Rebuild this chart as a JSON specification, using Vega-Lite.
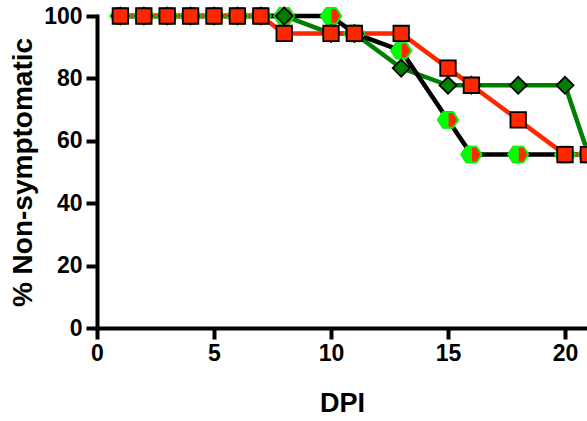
{
  "$schema": "https://vega.github.io/schema/vega-lite/v6.json",
  "width": 490,
  "height": 312,
  "autosize": {"type": "none"},
  "padding": {"left": 97, "top": 16, "right": 0, "bottom": 93},
  "background": "white",
  "config": {"view": {"stroke": null}, "font": "Liberation Sans"},
  "data": {
    "values": [
      {"series": "Black", "dpi": 1, "pct": 100},
      {"series": "Black", "dpi": 2, "pct": 100},
      {"series": "Black", "dpi": 3, "pct": 100},
      {"series": "Black", "dpi": 4, "pct": 100},
      {"series": "Black", "dpi": 5, "pct": 100},
      {"series": "Black", "dpi": 6, "pct": 100},
      {"series": "Black", "dpi": 7, "pct": 100},
      {"series": "Black", "dpi": 8, "pct": 100},
      {"series": "Black", "dpi": 10, "pct": 100},
      {"series": "Black", "dpi": 11, "pct": 94.4},
      {"series": "Black", "dpi": 13, "pct": 88.9},
      {"series": "Black", "dpi": 15, "pct": 66.7},
      {"series": "Black", "dpi": 16, "pct": 55.6},
      {"series": "Black", "dpi": 18, "pct": 55.6},
      {"series": "Black", "dpi": 20, "pct": 55.6},
      {"series": "Black", "dpi": 21, "pct": 55.6},
      {"series": "Green", "dpi": 1, "pct": 100},
      {"series": "Green", "dpi": 2, "pct": 100},
      {"series": "Green", "dpi": 3, "pct": 100},
      {"series": "Green", "dpi": 4, "pct": 100},
      {"series": "Green", "dpi": 5, "pct": 100},
      {"series": "Green", "dpi": 6, "pct": 100},
      {"series": "Green", "dpi": 7, "pct": 100},
      {"series": "Green", "dpi": 8, "pct": 100},
      {"series": "Green", "dpi": 10, "pct": 94.4},
      {"series": "Green", "dpi": 11, "pct": 94.4},
      {"series": "Green", "dpi": 13, "pct": 83.3},
      {"series": "Green", "dpi": 15, "pct": 77.8},
      {"series": "Green", "dpi": 16, "pct": 77.8},
      {"series": "Green", "dpi": 18, "pct": 77.8},
      {"series": "Green", "dpi": 20, "pct": 77.8},
      {"series": "Green", "dpi": 21, "pct": 55.6},
      {"series": "Red", "dpi": 1, "pct": 100},
      {"series": "Red", "dpi": 2, "pct": 100},
      {"series": "Red", "dpi": 3, "pct": 100},
      {"series": "Red", "dpi": 4, "pct": 100},
      {"series": "Red", "dpi": 5, "pct": 100},
      {"series": "Red", "dpi": 6, "pct": 100},
      {"series": "Red", "dpi": 7, "pct": 100},
      {"series": "Red", "dpi": 8, "pct": 94.4},
      {"series": "Red", "dpi": 10, "pct": 94.4},
      {"series": "Red", "dpi": 11, "pct": 94.4},
      {"series": "Red", "dpi": 13, "pct": 94.4},
      {"series": "Red", "dpi": 15, "pct": 83.3},
      {"series": "Red", "dpi": 16, "pct": 77.8},
      {"series": "Red", "dpi": 18, "pct": 66.7},
      {"series": "Red", "dpi": 20, "pct": 55.6},
      {"series": "Red", "dpi": 21, "pct": 55.6}
    ]
  },
  "encoding": {
    "x": {
      "field": "dpi",
      "type": "quantitative",
      "scale": {"domain": [0, 20.94], "nice": false, "zero": true},
      "axis": {
        "title": "DPI",
        "values": [0, 5, 10, 15, 20],
        "grid": false,
        "domainColor": "black",
        "domainWidth": 4,
        "domainCap": "square",
        "tickColor": "black",
        "tickWidth": 4,
        "tickSize": 11,
        "labelFontSize": 23,
        "labelFontWeight": "bold",
        "labelColor": "black",
        "labelPadding": 3,
        "labelFlush": false,
        "titleFontSize": 27,
        "titleFontWeight": "bold",
        "titleColor": "black",
        "titlePadding": 25
      }
    },
    "y": {
      "field": "pct",
      "type": "quantitative",
      "scale": {"domain": [0, 100], "nice": false},
      "axis": {
        "title": "% Non-symptomatic",
        "values": [0, 20, 40, 60, 80, 100],
        "grid": false,
        "domainColor": "black",
        "domainWidth": 4,
        "domainCap": "square",
        "tickColor": "black",
        "tickWidth": 4,
        "tickSize": 11,
        "labelFontSize": 23,
        "labelFontWeight": "bold",
        "labelColor": "black",
        "labelPadding": 4,
        "labelFlush": false,
        "titleFontSize": 28,
        "titleFontWeight": "bold",
        "titleColor": "black",
        "titlePadding": 6
      }
    }
  },
  "layer": [
    {
      "transform": [{"filter": "datum.series == 'Green'"}],
      "mark": {"type": "line", "color": "#008000", "strokeWidth": 4.5}
    },
    {
      "transform": [{"filter": "datum.series == 'Black'"}],
      "mark": {"type": "line", "color": "black", "strokeWidth": 4.5}
    },
    {
      "transform": [{"filter": "datum.series == 'Red'"}],
      "mark": {"type": "line", "color": "#ff2600", "strokeWidth": 4.5}
    },
    {
      "transform": [{"filter": "datum.series == 'Black'"}],
      "mark": {
        "type": "point",
        "filled": true,
        "shape": "M-1,0L-0.5,-0.78L0.5,-0.78L1,0L0.5,0.78L-0.5,0.78Z",
        "size": 460,
        "fill": "#00ff00",
        "stroke": "#00e600",
        "strokeWidth": 1,
        "opacity": 1
      }
    },
    {
      "transform": [{"filter": "datum.series == 'Black'"}],
      "mark": {
        "type": "point",
        "filled": true,
        "shape": "M0.05,-0.64L0.45,-0.64L0.84,0L0.45,0.64L0.05,0.64Z",
        "size": 460,
        "fill": "#ff2600",
        "strokeWidth": 0,
        "opacity": 1
      }
    },
    {
      "transform": [{"filter": "datum.series == 'Green'"}],
      "mark": {
        "type": "point",
        "filled": true,
        "shape": "diamond",
        "size": 290,
        "fill": "#008000",
        "stroke": "black",
        "strokeWidth": 1.8,
        "opacity": 1
      }
    },
    {
      "transform": [{"filter": "datum.series == 'Red'"}],
      "mark": {
        "type": "point",
        "filled": true,
        "shape": "square",
        "size": 240,
        "fill": "#ff2600",
        "stroke": "black",
        "strokeWidth": 1.8,
        "opacity": 1
      }
    }
  ]
}
